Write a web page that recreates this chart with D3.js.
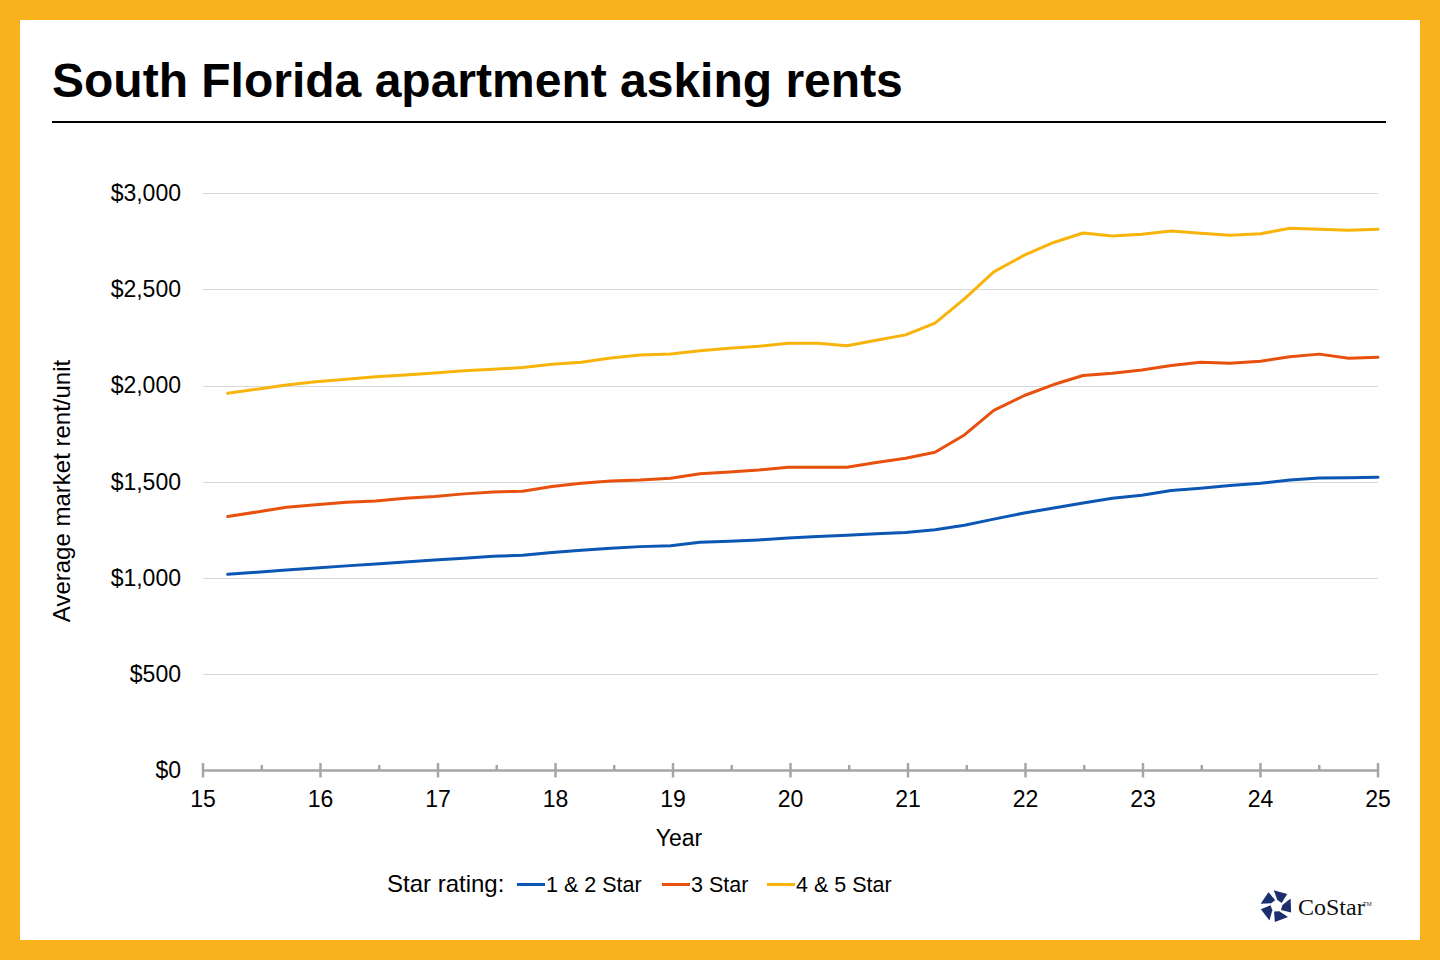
<!DOCTYPE html>
<html>
<head>
<meta charset="utf-8">
<script src="https://cdn.jsdelivr.net/npm/d3@7"></script>
<style>
  html, body { margin: 0; padding: 0; background: #fff; }
  svg { display: block; font-family: "Liberation Sans", Arial, sans-serif; }
</style>
</head>
<body>
<svg id="chart" width="1440" height="960"></svg>
<script>
// ---- Data ----
const periods = [15.21, 15.46, 15.71, 15.96, 16.22, 16.47, 16.72, 16.97, 17.22, 17.47,
                 17.72, 17.97, 18.22, 18.47, 18.72, 18.98, 19.23, 19.48, 19.73, 19.98,
                 20.23, 20.48, 20.73, 20.98, 21.23, 21.48, 21.73, 21.99, 22.24, 22.49,
                 22.74, 22.99, 23.24, 23.49, 23.74, 24.00, 24.25, 24.50, 24.75, 25.00];
const star12 = [1019, 1030, 1042, 1052, 1063, 1073, 1083, 1094, 1103, 1113,
                1118, 1132, 1144, 1155, 1163, 1168, 1186, 1191, 1198, 1208,
                1215, 1222, 1230, 1236, 1251, 1274, 1306, 1338, 1364, 1390,
                1414, 1430, 1455, 1466, 1480, 1492, 1509, 1520, 1521, 1523];
const star3 = [1319, 1343, 1368, 1380, 1393, 1400, 1414, 1423, 1437, 1447,
               1451, 1475, 1492, 1504, 1509, 1518, 1541, 1551, 1561, 1575,
               1575, 1575, 1600, 1622, 1653, 1743, 1871, 1948, 2005, 2052,
               2064, 2081, 2104, 2121, 2116, 2126, 2149, 2163, 2142, 2147];
const star45 = [1960, 1981, 2003, 2020, 2033, 2045, 2055, 2065, 2076, 2084,
                2093, 2110, 2121, 2143, 2159, 2164, 2180, 2194, 2204, 2220,
                2220, 2206, 2235, 2263, 2324, 2450, 2590, 2677, 2743, 2792,
                2777, 2786, 2802, 2791, 2781, 2788, 2817, 2812, 2807, 2812];
const seriesNames = ["1 & 2 Star", "3 Star", "4 & 5 Star"];
const seriesColors = ["#0c57b3", "#e8500e", "#f8b40a"];
const yTicks = [0, 500, 1000, 1500, 2000, 2500, 3000];
const xMajorTicks = [15, 16, 17, 18, 19, 20, 21, 22, 23, 24, 25];
const xMinorTicks = [15.5, 16.5, 17.5, 18.5, 19.5, 20.5, 21.5, 22.5, 23.5, 24.5];

const title = "South Florida apartment asking rents";
const yTitle = "Average market rent/unit";
const xTitle = "Year";
const legendTitle = "Star rating:";

// ---- Drawing ----
const svg = d3.select("#chart");
const W = 1440, H = 960;

// frame
svg.append("rect").attr("x", 0).attr("y", 0).attr("width", W).attr("height", H).attr("fill", "#f9b11d");
svg.append("rect").attr("x", 20).attr("y", 20).attr("width", W - 40).attr("height", H - 40).attr("fill", "#ffffff");

// title
svg.append("text").attr("x", 52).attr("y", 97)
  .attr("font-size", 48).attr("font-weight", "bold").attr("fill", "#000")
  .text(title);
svg.append("line").attr("x1", 52).attr("x2", 1386).attr("y1", 122).attr("y2", 122)
  .attr("stroke", "#000").attr("stroke-width", 2);

const x = d3.scaleLinear().domain([15, 25]).range([203, 1378]);
const y = d3.scaleLinear().domain([0, 3000]).range([770.5, 193]);

// gridlines
svg.append("g").selectAll("line").data(yTicks.filter(d => d > 0)).join("line")
  .attr("x1", x(15)).attr("x2", x(25))
  .attr("y1", d => Math.round(y(d)) + 0.5).attr("y2", d => Math.round(y(d)) + 0.5)
  .attr("stroke", "#d9d9d9").attr("stroke-width", 1);

// y axis labels
const yAxis = d3.axisLeft(y).tickValues(yTicks).tickSize(0).tickPadding(0)
  .tickFormat(d => "$" + d3.format(",")(d));
const gy = svg.append("g").attr("transform", "translate(181,0)").call(yAxis);
gy.select(".domain").remove();
gy.selectAll("text").attr("font-size", 23).attr("fill", "#000")
  .attr("font-family", "Liberation Sans, Arial, sans-serif");

// x axis
const axisY = 770.5;
const gx = svg.append("g");
gx.append("line").attr("x1", x(15)).attr("x2", x(25)).attr("y1", axisY).attr("y2", axisY)
  .attr("stroke", "#a6a6a6").attr("stroke-width", 2.5);
gx.selectAll("line.major").data(xMajorTicks).join("line").attr("class", "major")
  .attr("x1", d => x(d)).attr("x2", d => x(d)).attr("y1", 763).attr("y2", 777.5)
  .attr("stroke", "#a6a6a6").attr("stroke-width", 2.5);
gx.selectAll("line.minor").data(xMinorTicks).join("line").attr("class", "minor")
  .attr("x1", d => x(d)).attr("x2", d => x(d)).attr("y1", 765).attr("y2", 771)
  .attr("stroke", "#a6a6a6").attr("stroke-width", 2.5);
gx.selectAll("text.xl").data(xMajorTicks).join("text").attr("class", "xl")
  .attr("x", d => x(d)).attr("y", 807).attr("text-anchor", "middle")
  .attr("font-size", 23).attr("fill", "#000").text(d => d);

// axis titles
svg.append("text").attr("x", 679).attr("y", 846).attr("text-anchor", "middle")
  .attr("font-size", 23).attr("fill", "#000").text(xTitle);
svg.append("text").attr("transform", "translate(70,491) rotate(-90)").attr("text-anchor", "middle")
  .attr("font-size", 24).attr("fill", "#000").text(yTitle);

// lines
const allSeries = [star12, star3, star45];
const line = d3.line().x((d, i) => x(periods[i])).y(d => y(d));
svg.append("g").selectAll("path").data(allSeries).join("path")
  .attr("d", d => line(d)).attr("fill", "none")
  .attr("stroke", (d, i) => seriesColors[i]).attr("stroke-width", 3)
  .attr("stroke-linejoin", "round").attr("stroke-linecap", "round");

// legend
const lg = svg.append("g");
lg.append("text").attr("x", 387).attr("y", 892).attr("font-size", 24).attr("fill", "#000").text(legendTitle);
const legendX = [517, 662, 767];
seriesNames.forEach((name, i) => {
  lg.append("line").attr("x1", legendX[i]).attr("x2", legendX[i] + 28)
    .attr("y1", 884.5).attr("y2", 884.5).attr("stroke", seriesColors[i]).attr("stroke-width", 3);
  lg.append("text").attr("x", legendX[i] + 29).attr("y", 892).attr("font-size", 21.5)
    .attr("fill", "#000").text(name);
});

// CoStar logo
const logo = svg.append("g").attr("transform", "translate(1276.5,906)");
const rO = 16, rI = 6;
for (let k = 0; k < 5; k++) {
  const a0 = (-100 + 72 * k) * Math.PI / 180;
  const a1 = a0 + 52 * Math.PI / 180;
  const tw = 18 * Math.PI / 180;
  const pts = [
    [rO * Math.cos(a0), rO * Math.sin(a0)],
    [rO * Math.cos(a1), rO * Math.sin(a1)],
    [rI * Math.cos(a1 + tw), rI * Math.sin(a1 + tw)],
    [rI * Math.cos(a0 + tw), rI * Math.sin(a0 + tw)]
  ];
  logo.append("path").attr("d", d3.line()(pts) + "Z").attr("fill", "#1b2f6e");
}
svg.append("text").attr("x", 1298).attr("y", 915).attr("font-family", "Liberation Serif, Times New Roman, serif")
  .attr("font-size", 24).attr("fill", "#111").text("CoStar");
svg.append("text").attr("x", 1363).attr("y", 906).attr("font-family", "Liberation Sans, Arial, sans-serif")
  .attr("font-size", 6).attr("fill", "#333").text("TM");
</script>
</body>
</html>
